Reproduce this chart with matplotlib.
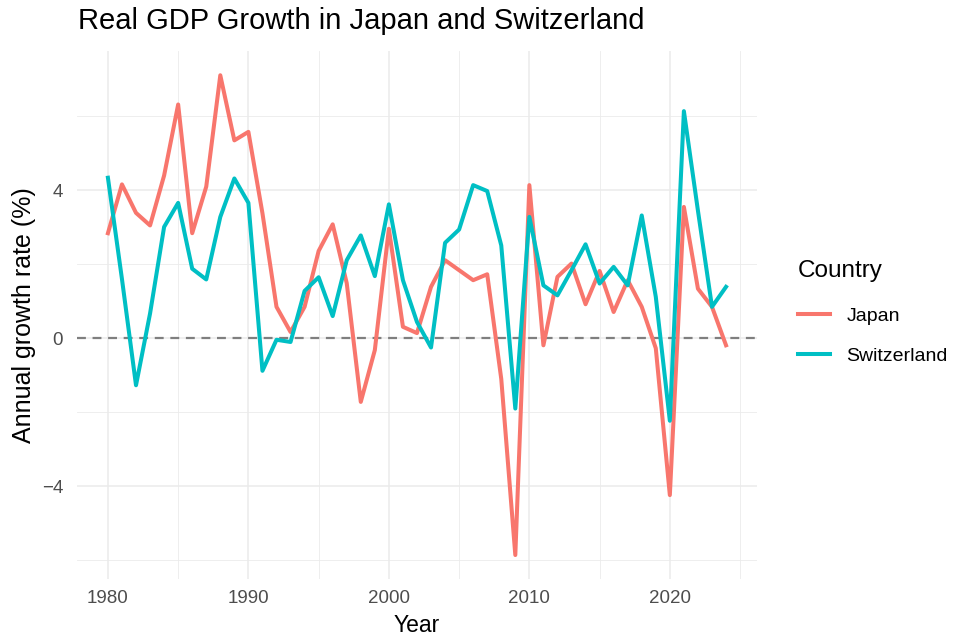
import numpy as np
import matplotlib.pyplot as plt
from matplotlib.ticker import MultipleLocator

plt.rcParams["font.family"] = ["Liberation Sans", "DejaVu Sans"]

# --- Data ---
years = list(range(1980, 2025))
japan = [2.84, 4.16, 3.39, 3.05, 4.40, 6.32, 2.84, 4.10, 7.11, 5.35,
         5.58, 3.38, 0.85, 0.17, 0.85, 2.36, 3.08, 1.49, -1.72, -0.32,
         2.96, 0.31, 0.14, 1.39, 2.11, 1.84, 1.57, 1.73, -1.10, -5.86,
         4.14, -0.19, 1.66, 2.02, 0.92, 1.82, 0.71, 1.57, 0.85, -0.27,
         -4.24, 3.55, 1.34, 0.85, -0.19]
switzerland = [4.34, 1.60, -1.27, 0.67, 3.01, 3.66, 1.88, 1.59, 3.28, 4.32,
               3.66, -0.88, -0.04, -0.10, 1.28, 1.65, 0.60, 2.11, 2.78, 1.68,
               3.62, 1.57, 0.44, -0.25, 2.58, 2.94, 4.14, 3.98, 2.51, -1.90,
               3.28, 1.43, 1.16, 1.84, 2.54, 1.48, 1.93, 1.43, 3.32, 1.12,
               -2.23, 6.14, 3.45, 0.85, 1.39]

col_jp = "#F8766D"
col_ch = "#00BFC4"

# --- Figure ---
fig = plt.figure(figsize=(9.59, 6.41), dpi=100)
ax = fig.add_axes([0.0803, 0.0967, 0.709, 0.8233])

ax.axhline(0, color="#7f7f7f", lw=1.6, ls=(0, (4, 3)), zorder=1)
ax.plot(years, japan, color=col_jp, lw=2.9, label="Japan", zorder=2)
ax.plot(years, switzerland, color=col_ch, lw=2.9, label="Switzerland", zorder=3)

# ggplot-like expansion
allv = japan + switzerland
lo, hi = min(allv), max(allv)
pad = (hi - lo) * 0.05
ax.set_ylim(lo - pad, hi + pad)
xpad = (years[-1] - years[0]) * 0.05
ax.set_xlim(years[0] - xpad, years[-1] + xpad)

# --- Minimal theme ---
ax.set_facecolor("white")
for s in ax.spines.values():
    s.set_visible(False)
ax.xaxis.set_major_locator(MultipleLocator(10))
ax.xaxis.set_minor_locator(MultipleLocator(5))
ax.yaxis.set_major_locator(MultipleLocator(4))
ax.yaxis.set_minor_locator(MultipleLocator(2))
ax.grid(which="major", color="#ebebeb", lw=1.1)
ax.grid(which="minor", color="#ebebeb", lw=0.6)
ax.set_axisbelow(True)
ax.tick_params(which="both", length=0, labelsize=13.5, colors="#4d4d4d")
ax.tick_params(axis="x", pad=8)
ax.tick_params(axis="y", pad=10)
ax.set_yticks([-4, 0, 4])
ax.set_yticklabels(["\u22124", "0", "4"])

ax.set_xlabel("Year", fontsize=16.5, labelpad=5)
ax.set_ylabel("Annual growth rate (%)", fontsize=18, labelpad=4)
fig.text(0.0813, 0.967, "Real GDP Growth in Japan and Switzerland",
         fontsize=21, ha="left", va="center")

leg = ax.legend(title="Country", loc="center left", bbox_to_anchor=(1.06, 0.505),
                frameon=False, fontsize=14, title_fontsize=17.5,
                handlelength=1.65, handletextpad=0.85, labelspacing=1.15,
                borderaxespad=0.0, borderpad=0.0)
leg._legend_box.align = "left"
leg._legend_box.sep = 18

fig.savefig("out.png", dpi=100)
